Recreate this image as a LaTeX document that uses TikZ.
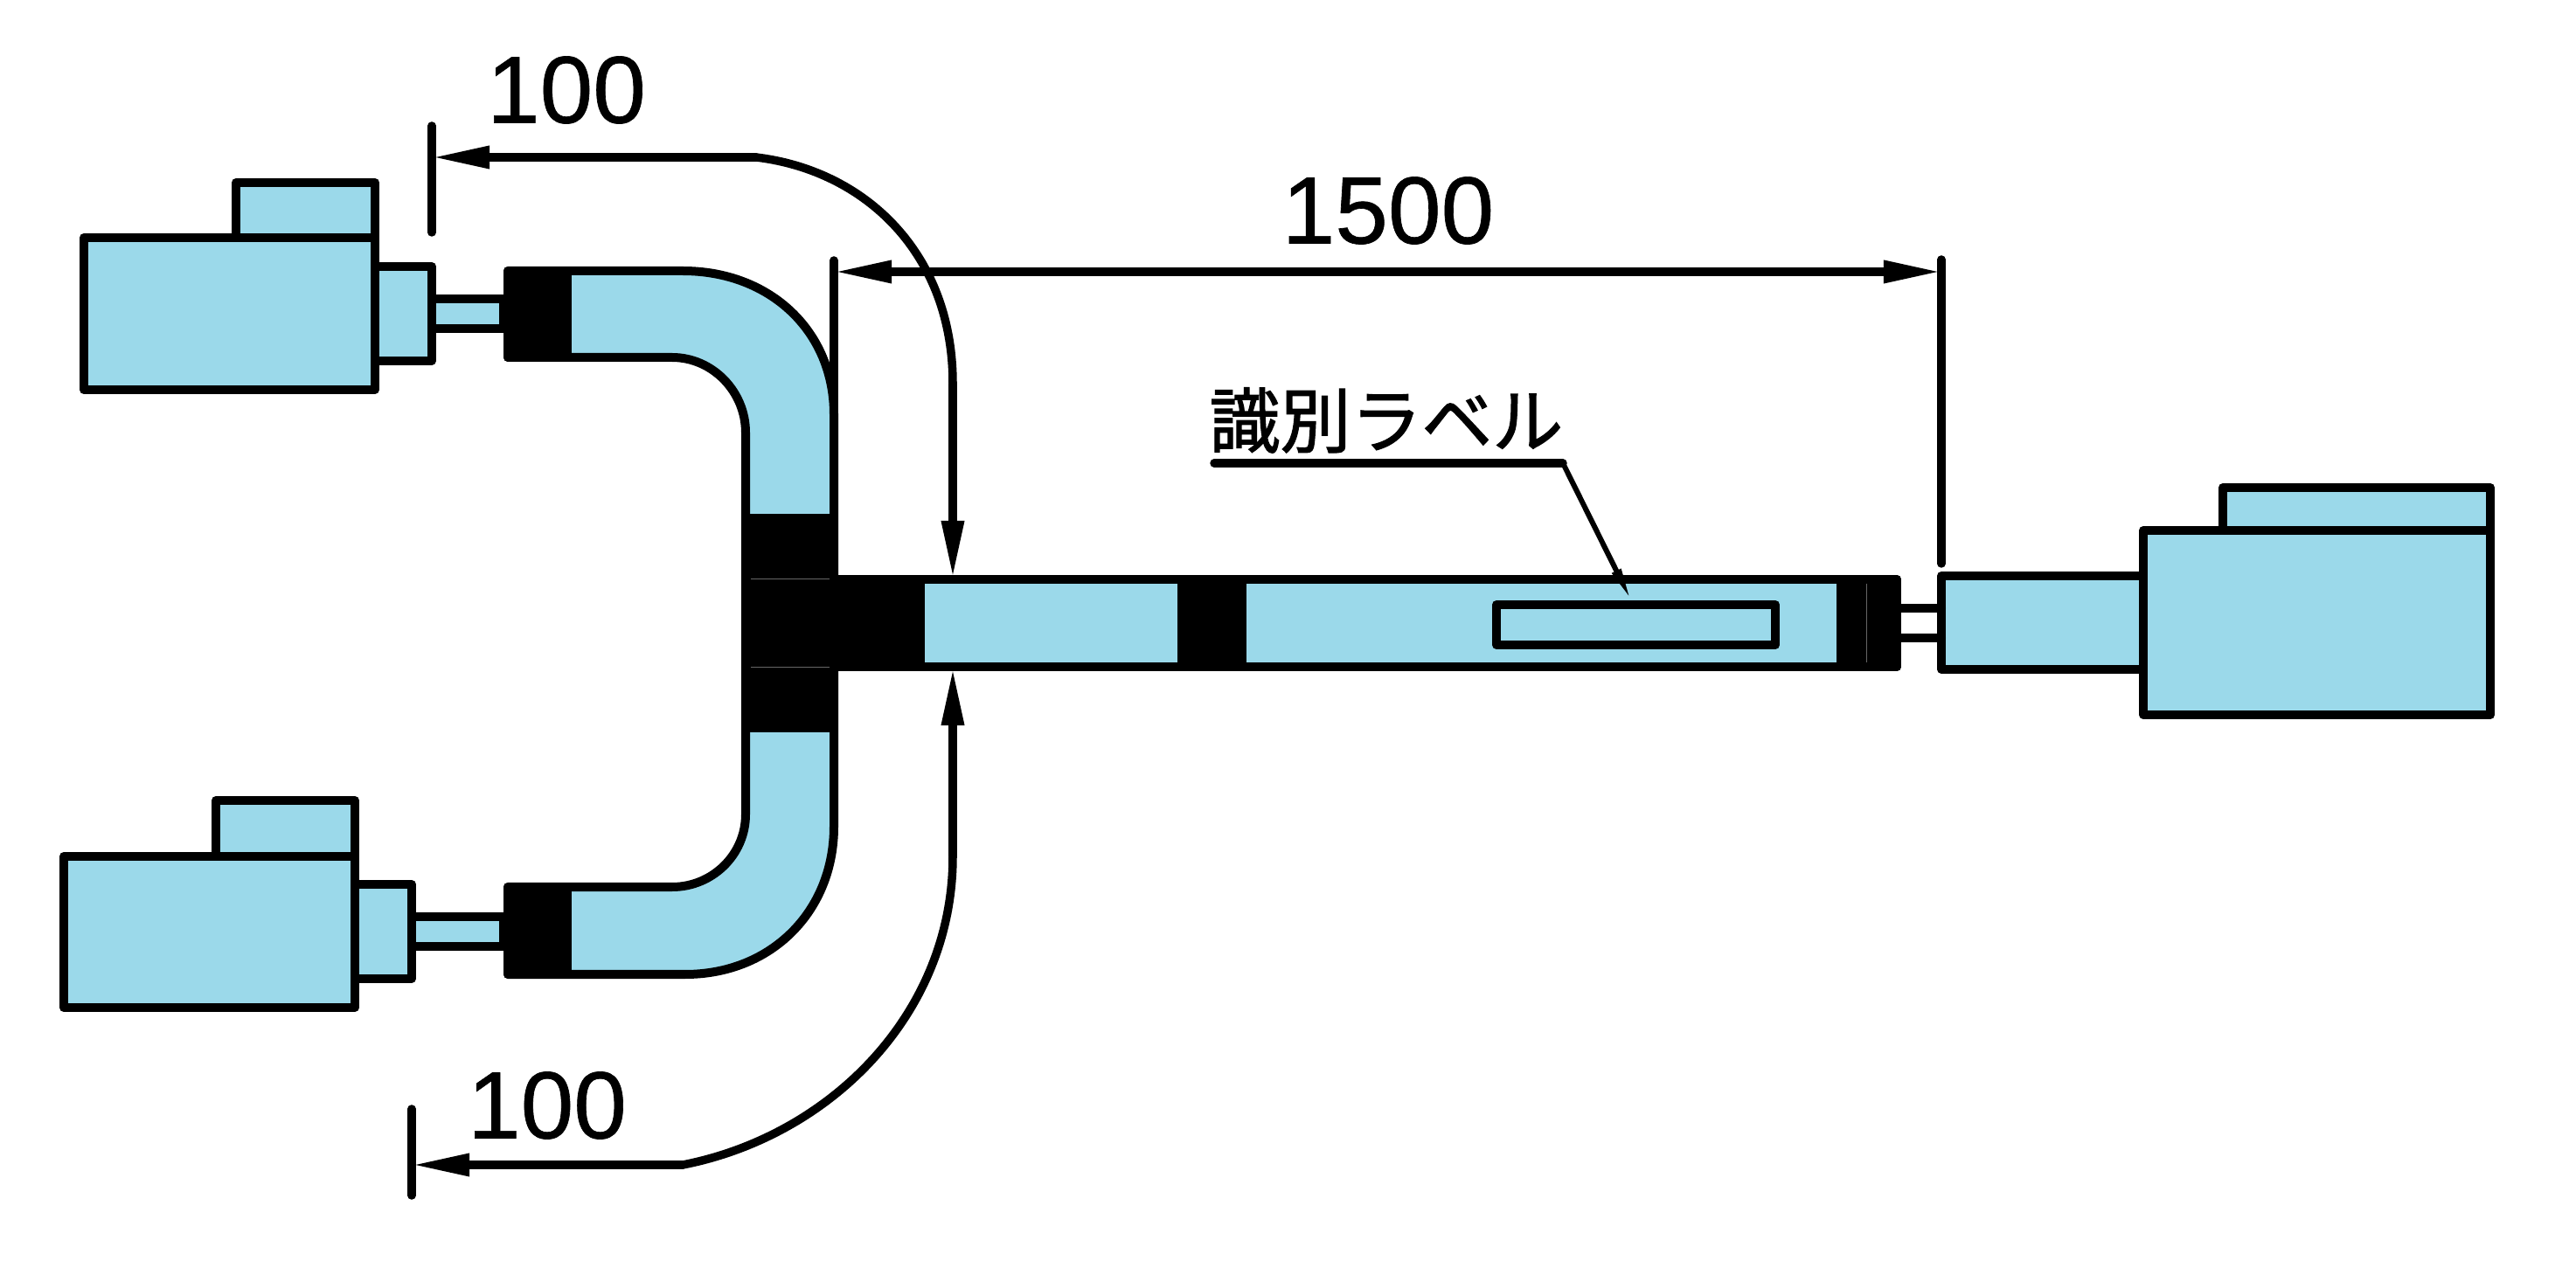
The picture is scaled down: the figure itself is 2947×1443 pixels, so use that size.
\documentclass[tikz,border=0pt]{standalone}
\usepackage{fontspec}
\setmainfont{Liberation Sans}
\newfontfamily\dimfont[FakeBold=.6]{Liberation Sans}
\newfontfamily\jpfont[FakeBold=1.6]{Noto Sans CJK JP}
\usetikzlibrary{arrows.meta}
\definecolor{pipeblue}{HTML}{9BD9EA}
\tikzset{
  part/.style={line width=.1cm, line join=round, fill=pipeblue},
  solid part/.style={line width=.1cm, line join=round, fill=black},
  edge line/.style={line width=.1cm, line cap=round, line join=round},
  dim line/.style={line width=.095cm, line cap=round},
  dim head/.style={-{Triangle[length=.66cm,width=.24cm]}},
  dim text/.style={font=\dimfont\fontsize{31}{31}\selectfont, inner sep=0pt},
  seam/.style={line width=.005cm, black!60}
}
\begin{document}
\begin{tikzpicture}[x=.01cm, y=-.01cm]
\useasboundingbox (0,0) rectangle (2947,1443);

\coordinate (tickA) at (494,180);
\coordinate (bendA) at (865,180);
\coordinate (dropA) at (1090,439);
\coordinate (topP) at (1090,662);
\coordinate (botP) at (1090,764);
\coordinate (riseB) at (1090,980);
\coordinate (bendB) at (781,1333);
\coordinate (tickB) at (471,1333);
\coordinate (tickL) at (954,311);
\coordinate (tickR) at (2221,311);
\coordinate (ulStart) at (1389,530);
\coordinate (ulEnd) at (1788,530);
\coordinate (tagTop) at (1867,689);

% upper motor
\draw[part] (270,209) rectangle (429,272);
\draw[part] (96,272) rectangle (429,446);
\draw[part] (429,305) rectangle (494,413);
\draw[part] (494,342) rectangle (576,376);

% lower motor
\draw[part] (247,916) rectangle (406,980);
\draw[part] (73,980) rectangle (406,1153);
\draw[part] (406,1012) rectangle (471,1120);
\draw[part] (471,1049) rectangle (576,1083);

% right motor
\draw[part] (2543,558) rectangle (2849,607);
\draw[part] (2452,607) rectangle (2849,818);
\draw[part] (2221,659) rectangle (2452,766);
\draw[edge line] (2174,696) -- (2221,696);
\draw[edge line] (2174,730) -- (2221,730);

% elbows
\draw[part] (581,310) -- (781,310) .. controls (882,310) and (954,380) .. (954,474)
  -- (954,663) -- (853,663) -- (853,495) .. controls (853,448) and (815,409) .. (769,409)
  -- (581,409) -- cycle;
\draw[part] (581,1115) -- (784,1115) .. controls (882,1115) and (954,1043) .. (954,946)
  -- (954,763) -- (853,763) -- (853,932) .. controls (853,978) and (815,1015) .. (769,1015)
  -- (581,1015) -- cycle;
\draw[solid part] (581,310) rectangle (649,409);
\draw[solid part] (581,1015) rectangle (649,1115);

% straight pipe
\draw[part] (853,663) rectangle (2170,763);
\draw[solid part] (853,593) -- (954,593) -- (954,663) -- (1053,663) -- (1053,763)
  -- (954,763) -- (954,833) -- (853,833) -- cycle;
\draw[solid part] (1352,663) rectangle (1421,763);
\draw[solid part] (2106,663) rectangle (2170,763);
\draw[seam] (859,662) -- (949,662);
\draw[seam] (859,763) -- (949,763);
\draw[seam] (2135,668) -- (2135,758);
\draw[part] (1712,692) rectangle (2031,738);

% dimensions
\draw[dim line] (494,144) -- (494,266);
\draw[dim line] (471,1269) -- (471,1368);
\draw[dim line] (954,298) -- (954,480);
\draw[dim line] (2221,297) -- (2221,645);
\draw[dim line, dim head] (bendA) -- (tickA);
\draw[dim line] (bendA) .. controls (990,195) and (1090,290) .. (dropA);
\draw[dim line, dim head] (dropA) -- (topP);
\draw[dim line, dim head] (bendB) -- (tickB);
\draw[dim line] (bendB) .. controls (950,1300) and (1090,1160) .. (riseB);
\draw[dim line, dim head] (riseB) -- (botP);
\draw[dim line, {Triangle[length=.66cm,width=.24cm]}-{Triangle[length=.66cm,width=.24cm]}] (tickL) -- (tickR);

\node[dim text] (lenA) at (648,103) {100};
\node[dim text] (lenB) at (626,1265) {100};
\node[dim text] (lenC) at (1588,241) {1500};
\node[font=\jpfont\fontsize{23}{23}\selectfont, inner sep=0pt] (tagName) at (1586,481) {識別ラベル};

% leader
\draw[dim line] (ulStart) -- (ulEnd);
\draw[line width=.06cm, -{Triangle[length=.4cm,width=.1cm]}] (ulEnd) -- (tagTop);
\end{tikzpicture}
\end{document}
